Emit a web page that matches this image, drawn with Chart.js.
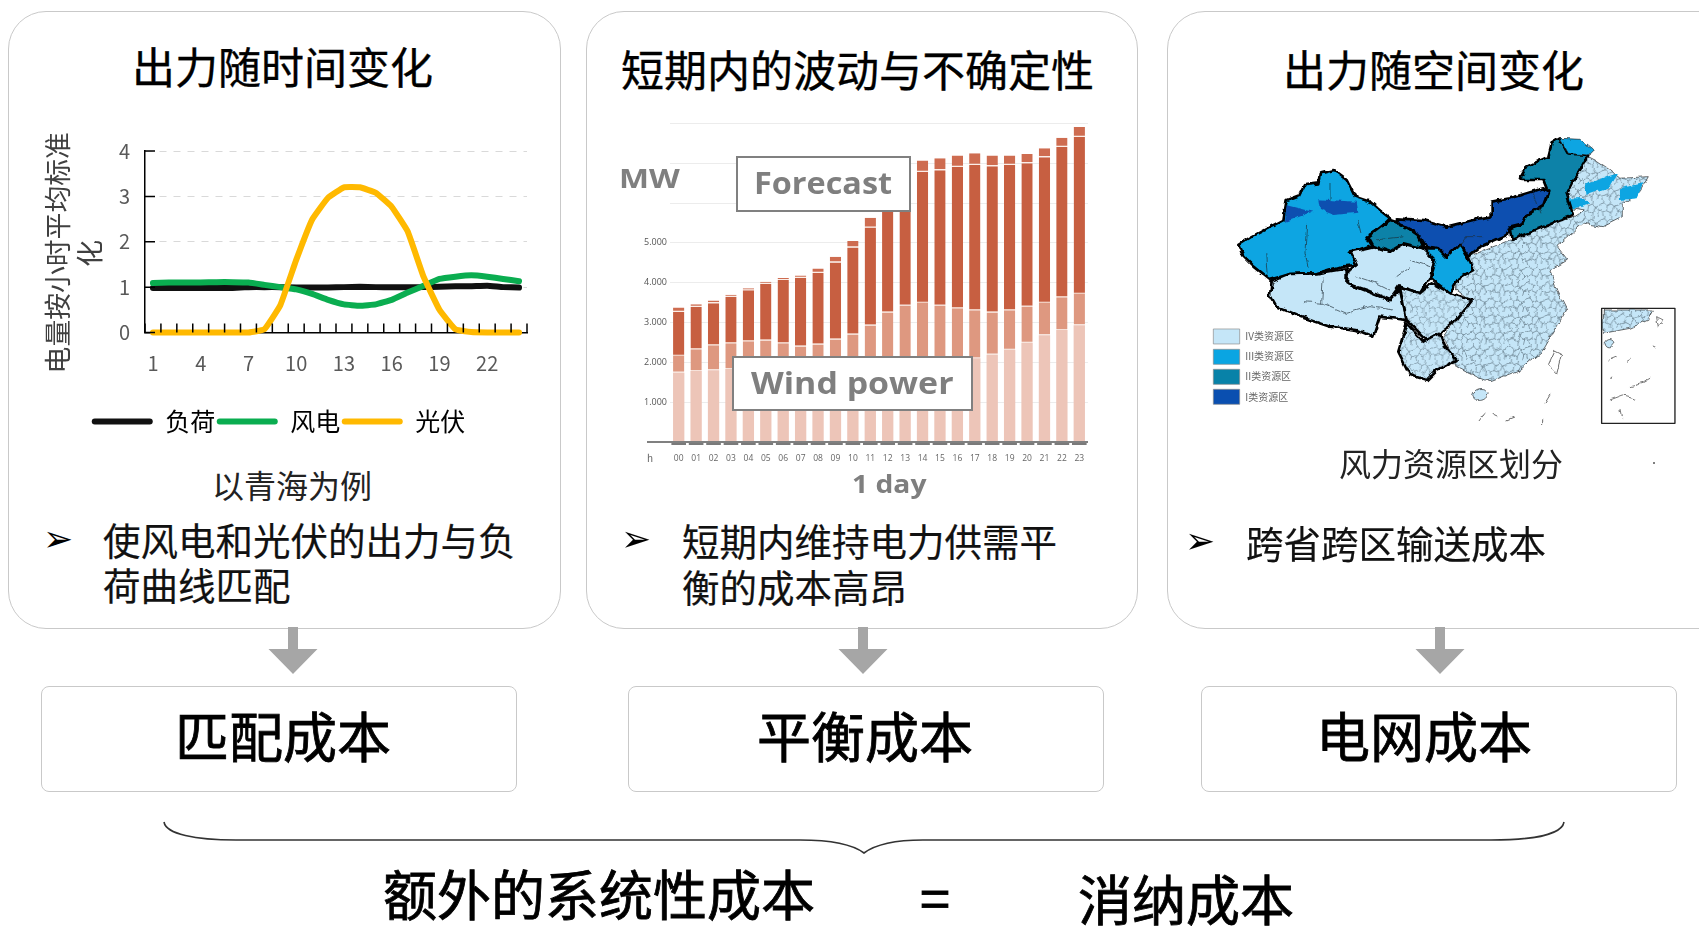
<!DOCTYPE html>
<html>
<head>
<meta charset="utf-8">
<script src="https://cdn.jsdelivr.net/npm/chart.js"></script>
<style>
  html, body { margin: 0; padding: 0; background: #fff; }
  #page { position: relative; width: 1699px; height: 926px; overflow: hidden; font-family: "Noto Sans CJK SC", sans-serif; color: #000; }
  #page > * { position: absolute; }
  .card { top: 11px; height: 618px; border: 1.5px solid #c9c9c9; border-radius: 38px; box-sizing: border-box; }
  .cost { top: 686px; height: 106px; border: 1.5px solid #c9c9c9; border-radius: 8px; box-sizing: border-box; }
  .t { white-space: nowrap; line-height: 1; }
  .title { font-size: 43px; -webkit-text-stroke: 0.35px #000; }
  .body { font-size: 37.5px; color: #111; -webkit-text-stroke: 0.2px #111; }
  .arrow { font-family: "DejaVu Sans"; font-size: 36px; }
  .big { font-size: 54px; -webkit-text-stroke: 0.8px #000; }
  .en { font-family: "Open Sans"; font-weight: 700; color: #7f7f7f; transform-origin: left center; }
  .tag { border: 2px solid #808080; background: #fff; box-sizing: border-box; z-index: 3; }
  canvas { display: block; filter: blur(0.3px); }
</style>
</head>
<body>
<div id="page">
  <div class="card" style="left:8px;width:553px"></div>
  <div class="card" style="left:586px;width:552px"></div>
  <div class="card" style="left:1167px;width:600px"></div>

  <div class="t title" style="left:132px;top:44px">出力随时间变化</div>
  <div class="t title" style="left:621px;top:47px">短期内的波动与不确定性</div>
  <div class="t title" style="left:1283px;top:47px">出力随空间变化</div>

  <canvas id="hourChart" width="510" height="324" style="left:30px;top:120px"></canvas>
  <div class="t" style="left:-63px;top:240px;width:240px;font-size:26.8px;text-align:center;color:#404040;transform:rotate(-90deg)">电量按小时平均标准</div>
  <div class="t" style="left:76px;top:240px;font-size:26.8px;color:#404040;transform:rotate(-90deg)">化</div>
  <div class="t" style="left:212px;top:468px;font-size:32px;color:#222">以青海为例</div>
  <div class="t arrow" style="left:43px;top:521px">➢</div>
  <div class="t body" style="left:103px;top:520px">使风电和光伏的出力与负</div>
  <div class="t body" style="left:103px;top:565px">荷曲线匹配</div>

  <canvas id="dayChart" width="490" height="360" style="left:610px;top:115px"></canvas>
  <div class="t en" style="left:619px;top:164px;font-size:27px;transform:scaleX(1.18)">MW</div>
  <div class="t tag" style="left:736px;top:156px;width:175px;height:56px"></div>
  <div class="t en" style="left:754px;top:168px;font-size:30px;z-index:4;transform:scaleX(1.08)">Forecast</div>
  <div class="t tag" style="left:732px;top:356px;width:241px;height:55px"></div>
  <div class="t en" style="left:751px;top:368px;font-size:30px;z-index:4;transform:scaleX(1.13)">Wind power</div>
  <div class="t" style="left:647px;top:453px;font-size:10px;color:#666">h</div>
  <div class="t en" style="left:852px;top:471px;font-size:25px;transform:scaleX(1.13)">1 day</div>
  <div class="t arrow" style="left:621px;top:521px">➢</div>
  <div class="t body" style="left:682px;top:521px">短期内维持电力供需平</div>
  <div class="t body" style="left:682px;top:567px">衡的成本高昂</div>

  <svg width="1699" height="926" viewBox="0 0 1699 926" style="left:0;top:0">
    <defs>
      <pattern id="counties" width="56" height="48" patternUnits="userSpaceOnUse">
        <path d="M0 12 L12 8 L20 17 L32 12 L41 19 L56 14 M20 17 L17 32 L5 36 L0 31 M17 32 L30 38 L41 19 M30 38 L29 48 M41 19 L49 36 L56 32 M49 36 L46 48 M12 8 L13 0 M32 12 L34 0 M5 36 L8 48" fill="none" stroke="#1f2d36" stroke-width="1.2"/>
      </pattern>
      <filter id="rough" x="-5%" y="-5%" width="110%" height="110%">
        <feTurbulence type="fractalNoise" baseFrequency="0.035" numOctaves="3" seed="4" result="n"/>
        <feDisplacementMap in="SourceGraphic" in2="n" scale="16" xChannelSelector="R" yChannelSelector="G"/>
        <feGaussianBlur stdDeviation="0.9"/>
      </filter>
    </defs>
    <path d="M164 822 C166 834 195 840 236 840 L800 840 C830 840 852 844 864 853 C876 844 895 840 923 840 L1491 840 C1535 840 1562 834 1564 822" fill="none" stroke="#333" stroke-width="1.6"/>
    <polygon fill="#a6a6a6" points="288,627 298,627 298,649 317.5,649 293,674 268.5,649 288,649"/>
    <polygon fill="#a6a6a6" points="858,627 868,627 868,649 887.5,649 863,674 838.5,649 858,649"/>
    <polygon fill="#a6a6a6" points="1435,627 1445,627 1445,649 1464.5,649 1440,674 1415.5,649 1435,649"/>

    <!-- wind resource map, traced by hand -->
    <g transform="translate(1190,120) scale(0.3333)" stroke-linejoin="round">
      <g filter="url(#rough)">
        <g stroke="#222" stroke-width="2">
          <path fill="#c5e6f8" d="M835 410 L960 360 L1050 325 L1150 290 L1180 270 L1130 260 L1120 230 L1145 190 L1170 150 L1195 110 L1215 120 L1260 150 L1290 175 L1375 170 L1350 215 L1300 250 L1300 290 L1240 320 L1180 310 L1100 380 L1130 420 L1080 450 L1100 510 L1130 570 L1100 620 L1060 690 L990 750 L900 785 L860 770 L800 740 L760 650 L790 610 L840 540 L800 510 L800 470 L850 450 Z"/>
          <path fill="url(#counties)" stroke="none" d="M835 410 L960 360 L1050 325 L1150 290 L1180 270 L1130 260 L1120 230 L1145 190 L1170 150 L1195 110 L1215 120 L1260 150 L1290 175 L1375 170 L1350 215 L1300 250 L1300 290 L1240 320 L1180 310 L1100 380 L1130 420 L1080 450 L1100 510 L1130 570 L1100 620 L1060 690 L990 750 L900 785 L860 770 L800 740 L760 650 L790 610 L840 540 L800 510 L800 470 L850 450 Z"/>
          <path fill="#0aa5e2" stroke="none" d="M1120 235 L1180 235 L1200 250 L1150 265 L1120 255 Z M1185 195 L1250 170 L1285 160 L1260 200 L1190 225 Z M1290 205 L1360 190 L1340 235 L1290 240 Z"/>
          <path fill="#c5e6f8" d="M845 825 C850 800 890 800 895 820 C890 845 855 850 845 825 Z"/>
          <path fill="none" d="M1095 690 L1115 700 L1100 760 L1075 735 Z M870 900 L885 880 M905 880 L925 890 M950 900 L975 890 M1055 895 L1055 915 M1065 850 L1080 825"/>
        </g>
        <g stroke="#000" stroke-width="8">
          <path fill="#0aa5e2" d="M145 375 L185 350 L280 300 L290 240 L330 225 L345 195 L385 190 L390 160 L430 150 L470 180 L495 230 L540 245 L575 275 L600 295 L570 325 L530 350 L545 375 L490 395 L500 435 L450 440 L380 460 L300 462 L240 480 L190 440 L160 410 Z"/>
          <path fill="#c5e6f8" d="M245 485 L300 462 L380 460 L470 445 L470 490 L600 540 L630 510 L650 600 L570 590 L550 650 L500 630 L420 620 L330 590 L260 560 L240 525 Z"/>
          <path fill="#c5e6f8" d="M480 395 L555 378 L600 395 L640 372 L700 385 L735 420 L720 470 L690 520 L630 500 L600 540 L530 510 L470 490 L475 450 L500 435 Z"/>
          <path fill="#c5e6f8" d="M630 500 L690 520 L725 490 L780 520 L845 540 L790 610 L745 640 L715 665 L650 600 Z"/>
          <path fill="#c5e6f8" d="M650 610 L700 665 L750 640 L765 680 L800 720 L740 750 L710 780 L660 765 L625 695 Z"/>
          <path fill="#0aa5e2" d="M700 385 L745 385 L770 410 L810 375 L835 420 L850 450 L805 475 L780 520 L740 490 L720 470 L735 420 Z"/>
          <path fill="#0882a8" d="M535 350 L600 300 L630 310 L680 345 L700 385 L640 370 L600 395 L550 378 Z"/>
          <path fill="#0882a8" d="M990 175 L1010 140 L1075 110 L1085 70 L1110 55 L1135 100 L1195 105 L1170 150 L1145 190 L1130 220 L1150 285 L1050 325 L1000 345 L965 360 L960 325 L1000 310 L1010 285 L1060 250 L1070 205 L1060 180 L1000 180 Z"/>
          <path fill="#0a4fb0" d="M620 295 L700 300 L770 320 L870 295 L905 290 L905 245 L960 235 L1060 205 L1075 215 L1060 255 L1010 285 L1000 310 L960 320 L950 345 L870 380 L835 410 L810 375 L770 410 L745 385 L700 375 L680 340 L630 315 Z"/>
        </g>
        <path fill="#0aa5e2" stroke="#222" stroke-width="2" d="M1110 55 L1170 58 L1210 90 L1195 105 L1135 100 Z"/>
        <path fill="#0a4fb0" stroke="none" d="M290 255 L370 275 L285 305 Z M385 238 L500 245 L505 278 L430 285 L390 270 Z"/>
        <path fill="url(#counties)" stroke="none" d="M635 510 L690 525 L725 495 L780 525 L838 545 L790 605 L745 635 L715 660 L655 600 Z M655 615 L700 670 L750 645 L762 682 L795 718 L740 745 L710 775 L665 760 L630 695 Z" opacity="0.8"/>
        <path fill="none" stroke="#1f2d36" stroke-width="2" d="M350 310 L345 400 L355 440 M230 400 L235 470 M500 300 L510 340 M420 190 L420 240 M340 545 L400 550 L470 580 L540 560 L610 570 M400 470 L395 550 M660 420 L720 440 M500 470 L560 490 L600 510 M620 470 L660 440 M800 390 L830 350 L880 350 M1030 220 L1050 280 M560 360 L640 350"/>
      </g>

      <rect x="1235" y="565" width="220" height="345" fill="#fff" stroke="#222" stroke-width="4"/>
      <g filter="url(#rough)">
        <path fill="#c5e6f8" stroke="#222" stroke-width="2" d="M1240 570 L1390 570 L1375 600 L1320 625 L1240 640 Z"/>
        <path fill="url(#counties)" stroke="none" d="M1240 570 L1390 570 L1375 600 L1320 625 L1240 640 Z"/>
        <path fill="#c5e6f8" stroke="#222" stroke-width="2" d="M1245 670 C1250 655 1270 655 1272 670 C1268 688 1248 688 1245 670 Z"/>
        <path fill="none" stroke="#333" stroke-width="2" d="M1400 590 L1420 600 L1405 625 Z M1255 720 L1280 710 M1310 725 L1325 715 M1262 780 L1266 770 M1320 800 L1360 790 L1385 775 M1260 840 L1300 825 L1340 835 M1290 870 L1295 895 M1390 680 L1395 690"/>
      </g>

      <g stroke="#8a8a8a" stroke-width="2">
        <rect x="70" y="627" width="79" height="45" fill="#c5e6f8"/>
        <rect x="70" y="688" width="79" height="45" fill="#0aa5e2"/>
        <rect x="70" y="748" width="79" height="45" fill="#0882a8"/>
        <rect x="70" y="808" width="79" height="45" fill="#0a4fb0"/>
      </g>
      <g font-size="30" fill="#666">
        <text x="166" y="661">IV类资源区</text>
        <text x="166" y="721">III类资源区</text>
        <text x="166" y="781">II类资源区</text>
        <text x="166" y="842">I类资源区</text>
      </g>
    </g>
    <circle cx="1654" cy="463" r="1" fill="#555"/>
  </svg>

  <div class="t" style="left:1339px;top:446px;font-size:32px;color:#222">风力资源区划分</div>
  <div class="t arrow" style="left:1185px;top:523px">➢</div>
  <div class="t body" style="left:1246px;top:523px">跨省跨区输送成本</div>

  <div class="cost" style="left:41px;width:476px"></div>
  <div class="cost" style="left:628px;width:476px"></div>
  <div class="cost" style="left:1201px;width:476px"></div>
  <div class="t big" style="left:175px;top:708px">匹配成本</div>
  <div class="t big" style="left:757px;top:708px">平衡成本</div>
  <div class="t big" style="left:1316px;top:708px">电网成本</div>
  <div class="t big" style="left:383px;top:866px">额外的系统性成本</div>
  <div class="t big" style="left:920px;top:869px">=</div>
  <div class="t big" style="left:1078px;top:871px">消纳成本</div>
</div>

<script>
// left chart: hourly output, normalised (Qinghai)
const hours = ["1","2","3","4","5","6","7","8","9","10","11","12","13","14","15","16","17","18","19","20","21","22","23","24"];
const loadData = [0.98,0.98,0.98,0.98,0.98,0.98,1.0,1.0,1.0,0.99,0.99,0.99,1.0,1.01,1.0,1.0,1.0,1.0,1.01,1.02,1.02,1.03,1.0,0.99];
const windData = [1.09,1.10,1.10,1.10,1.11,1.11,1.10,1.05,1.0,0.95,0.85,0.72,0.62,0.59,0.62,0.72,0.88,1.03,1.18,1.23,1.26,1.23,1.18,1.13];
const solarData = [0,0,0,0,0,0,0,0.07,0.6,1.6,2.49,2.97,3.2,3.2,3.08,2.77,2.23,1.23,0.5,0.07,0.01,0,0,0];

// middle chart: top of each stacked layer per hour, MW (04-16 light layer and 12-13 tops sit behind the boxes, estimated)
const dayHours = ["00","01","02","03","04","05","06","07","08","09","10","11","12","13","14","15","16","17","18","19","20","21","22","23"];
const lightTop = [1740,1780,1800,1830,1850,1880,1900,1920,1950,1980,2000,2020,2040,2050,2060,2070,2080,2100,2190,2310,2490,2680,2810,2930];
const mediumTop = [2160,2330,2430,2480,2530,2550,2480,2400,2450,2575,2700,2925,3250,3425,3490,3425,3360,3310,3250,3310,3400,3490,3633,3717];
const darkTop = [3267,3390,3483,3650,3808,3967,4067,4117,4242,4508,4883,5383,5850,6350,6783,6825,6908,6958,6925,6958,7000,7150,7408,7658];
const capTop = [3375,3458,3550,3700,3858,4025,4117,4183,4358,4650,5050,5633,6100,6600,7067,7125,7192,7250,7192,7192,7233,7375,7642,7908];
const yLabelsMW = {1000:"1.000",2000:"2.000",3000:"3.000",4000:"4.000",5000:"5.000"};

const cjk = '"Noto Sans CJK SC"';

// small ticks inside the axes, as in the original chart
const insideTicks = {
  id: 'insideTicks',
  afterDraw(chart) {
    const { ctx, scales: { x, y } } = chart;
    const step = x.getPixelForValue(1) - x.getPixelForValue(0);
    ctx.save();
    ctx.strokeStyle = '#000';
    ctx.lineWidth = 1.5;
    ctx.beginPath();
    for (let i = 0; i <= hours.length; i++) {
      const px = x.getPixelForValue(0) - step / 2 + i * step;
      ctx.moveTo(px, y.bottom);
      ctx.lineTo(px, y.bottom - 9);
    }
    y.ticks.forEach(t => {
      const py = y.getPixelForValue(t.value);
      ctx.moveTo(x.left, py);
      ctx.lineTo(x.left + 10, py);
    });
    ctx.stroke();
    ctx.restore();
  }
};

new Chart(document.getElementById('hourChart'), {
  type: 'line',
  data: {
    labels: hours,
    datasets: [
      { label: '负荷', data: loadData, borderColor: '#111111', backgroundColor: '#111111', borderWidth: 6, order: 3 },
      { label: '风电', data: windData, borderColor: '#0aad50', backgroundColor: '#0aad50', borderWidth: 6, order: 2 },
      { label: '光伏', data: solarData, borderColor: '#ffb900', backgroundColor: '#ffb900', borderWidth: 6, order: 1 }
    ]
  },
  options: {
    responsive: false,
    animation: false,
    layout: { padding: { top: 31, right: 13 } },
    datasets: { line: { pointRadius: 0, tension: 0.1, clip: false, borderCapStyle: 'round' } },
    plugins: {
      tooltip: { enabled: false },
      legend: {
        position: 'bottom',
        labels: {
          boxWidth: 61, boxHeight: 6, padding: 1.5, useBorderRadius: true, borderRadius: 3,
          color: '#404040', font: { family: cjk, size: 25 },
          generateLabels: chart => chart.data.datasets.map((d, i) => ({
            text: d.label, fillStyle: d.borderColor, strokeStyle: d.borderColor, lineWidth: 0, datasetIndex: i, borderRadius: 3
          }))
        }
      }
    },
    scales: {
      x: {
        offset: true,
        afterFit(s) { s.height = 75; },
        grid: { display: false, drawTicks: false },
        border: { color: '#000', width: 1.5 },
        ticks: {
          autoSkip: false, maxRotation: 0, padding: 19, color: '#595959', font: { family: cjk, size: 20 },
          callback(v, i) { return i % 3 === 0 ? hours[i] : ''; }
        }
      },
      y: {
        min: 0, max: 4,
        afterFit(s) { s.width = 115; },
        grid: { color: '#d9d9d9', drawTicks: false },
        border: { color: '#000', width: 1.5, dash: [7, 7] },
        ticks: { stepSize: 1, padding: 15, color: '#595959', font: { family: cjk, size: 20 } }
      }
    }
  },
  plugins: [insideTicks]
});

// baseline of the day chart runs left past the axis and has short thick marks under the bars
const dayBaseline = {
  id: 'dayBaseline',
  afterDraw(chart) {
    const { ctx, scales: { x, y } } = chart;
    const step = x.getPixelForValue(1) - x.getPixelForValue(0);
    ctx.save();
    ctx.fillStyle = '#808080';
    ctx.fillRect(x.left - 23, y.bottom - 1, x.right - x.left + 23, 2);
    ctx.fillStyle = '#7a7a7a';
    dayHours.forEach((h, i) => {
      ctx.fillRect(x.getPixelForValue(i) - step * 0.42, y.bottom + 1, step * 0.84, 2);
    });
    ctx.restore();
  }
};

const layer = (top, under) => top.map((v, i) => under ? v - under[i] : v);
const seam = color => ({ borderColor: color, borderWidth: { bottom: 1.2, top: 0, left: 0, right: 0 }, borderSkipped: false });

new Chart(document.getElementById('dayChart'), {
  type: 'bar',
  data: {
    labels: dayHours,
    datasets: [
      { label: 'light', data: layer(lightTop), backgroundColor: '#edc5b8' },
      { label: 'medium', data: layer(mediumTop, lightTop), backgroundColor: '#de9880', ...seam('#f6e2da') },
      { label: 'dark', data: layer(darkTop, mediumTop), backgroundColor: '#c75f41', ...seam('#f0cdbf') },
      { label: 'cap', data: layer(capTop, darkTop), backgroundColor: '#ce6c50', ...seam('#fbeee8') }
    ]
  },
  options: {
    responsive: false,
    animation: false,
    layout: { padding: { top: 8, right: 12 } },
    plugins: { legend: { display: false }, tooltip: { enabled: false } },
    datasets: { bar: { barPercentage: 0.65, categoryPercentage: 1 } },
    scales: {
      x: {
        stacked: true,
        afterFit(s) { s.height = 33; },
        grid: { display: false, drawTicks: false },
        border: { display: false },
        ticks: { autoSkip: false, maxRotation: 0, padding: 11, color: '#666', font: { family: '"Open Sans"', size: 8.5 } }
      },
      y: {
        stacked: true,
        min: 0, max: 8000,
        afterFit(s) { s.width = 60; },
        grid: { color: '#ececec', drawTicks: false },
        border: { display: false },
        ticks: {
          stepSize: 1000, padding: 3, color: '#555', font: { family: '"Open Sans"', size: 9 },
          callback(v) { return yLabelsMW[v] || ''; }
        }
      }
    }
  },
  plugins: [dayBaseline]
});
</script>
</body>
</html>
